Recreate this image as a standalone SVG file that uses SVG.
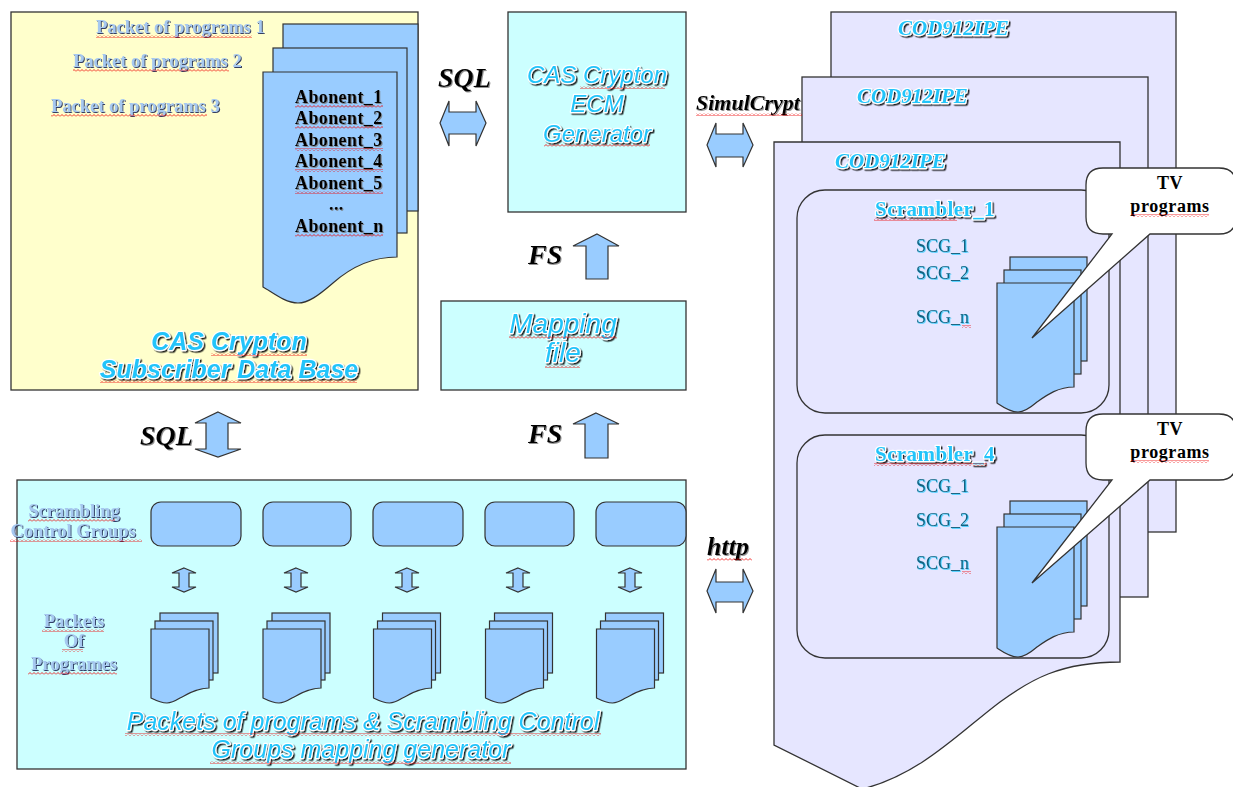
<svg xmlns="http://www.w3.org/2000/svg" width="1233" height="787" viewBox="0 0 1233 787">
<defs>
<filter id="shD" x="-5%" y="-30%" width="115%" height="170%"><feDropShadow dx="1.5" dy="1.5" stdDeviation="0.5" flood-color="#000" flood-opacity="0.85"/></filter>
<filter id="shN" x="-5%" y="-30%" width="115%" height="170%"><feDropShadow dx="1" dy="1" stdDeviation="0.5" flood-color="#1a2a55" flood-opacity="0.9"/></filter>
<filter id="shG" x="-5%" y="-30%" width="115%" height="170%"><feDropShadow dx="1" dy="1" stdDeviation="0.7" flood-color="#777" flood-opacity="0.8"/></filter>
<filter id="shC" x="-5%" y="-30%" width="115%" height="170%"><feDropShadow dx="0.8" dy="0.8" stdDeviation="0.6" flood-color="#33ccff" flood-opacity="1"/></filter>
<pattern id="wv" patternUnits="userSpaceOnUse" width="4" height="3"><path d="M0,2.5 L2,0.5 L4,2.5" fill="none" stroke="#e00" stroke-width="0.8"/></pattern>
<style>
.bx{stroke:#333;stroke-width:1.3}
.yel{fill:#ffffcc}
.cy{fill:#ccffff}
.lav{fill:#e6e6ff}
.doc{fill:#99ccff;stroke:#333;stroke-width:1.2}
.arr{fill:#99ccff;stroke:#333;stroke-width:1.2;stroke-linejoin:miter}
.call{fill:#fff;stroke:#333;stroke-width:1.3}
.ttl{font-family:"Liberation Sans",Arial,sans-serif;font-style:italic;fill:#22c4fa;stroke:#fff;stroke-width:2.5;paint-order:stroke;stroke-linejoin:round;filter:url(#shD);text-anchor:middle}
.tb{font-weight:bold}
.pk{font-family:"Liberation Serif","Times New Roman",serif;font-weight:bold;font-size:18.5px;fill:#a6c8f0;filter:url(#shN)}
.ab{font-family:"Liberation Serif","Times New Roman",serif;font-weight:bold;font-size:18px;letter-spacing:0.4px;fill:#000;filter:url(#shG)}
.lbl{font-family:"Liberation Serif","Times New Roman",serif;font-weight:bold;font-style:italic;fill:#000;filter:url(#shG)}
.cod{font-family:"Liberation Serif","Times New Roman",serif;font-weight:bold;font-style:italic;font-size:21px;fill:#22c4fa;stroke:#fff;stroke-width:2.5;paint-order:stroke;stroke-linejoin:round;filter:url(#shD)}
.scr{font-family:"Liberation Serif","Times New Roman",serif;font-weight:bold;font-size:21px;letter-spacing:0.4px;fill:#22c4fa;stroke:#fff;stroke-width:2.5;paint-order:stroke;stroke-linejoin:round;filter:url(#shD);text-anchor:middle}
.scg{font-family:"Liberation Serif","Times New Roman",serif;font-size:18px;fill:#12617f;filter:url(#shC)}
.tv{font-family:"Liberation Serif","Times New Roman",serif;font-weight:bold;font-size:18px;letter-spacing:0.6px;fill:#000;text-anchor:middle}
.sq{fill:url(#wv)}
</style>
</defs>
<rect width="1233" height="787" fill="#fff"/>

<!-- Subscriber DB -->
<g id="subscriber-db">
<rect class="bx yel" x="11" y="12" width="407" height="378"/>
<rect class="doc" x="283" y="24" width="135" height="187"/>
<rect class="doc" x="273" y="48" width="134" height="185"/>
<path class="doc" d="M263,72 H397 V257 C370,257 350,268 333,283 C318,296 308,303 298,303 C285,303 272,292 263,287 Z"/>
<text class="pk" x="96" y="33">Packet of programs 1</text>
<text class="pk" x="73" y="67">Packet of programs 2</text>
<text class="pk" x="51" y="112">Packet of programs 3</text>
<text class="ab" x="295" y="103">Abonent_1</text>
<text class="ab" x="295" y="124">Abonent_2</text>
<text class="ab" x="295" y="146">Abonent_3</text>
<text class="ab" x="295" y="167">Abonent_4</text>
<text class="ab" x="295" y="189">Abonent_5</text>
<text class="ab" x="329" y="210">...</text>
<text class="ab" x="295" y="232">Abonent_n</text>
<text class="ttl tb" x="229" y="350" font-size="25">CAS Crypton</text>
<text class="ttl tb" x="229" y="378" font-size="25">Subscriber Data Base</text>
</g>

<!-- ECM generator -->
<g id="ecm-generator">
<rect class="bx cy" x="508" y="12" width="178" height="200"/>
<text class="ttl" x="597" y="83" font-size="24">CAS Crypton</text>
<text class="ttl" x="597" y="112" font-size="24">ECM</text>
<text class="ttl" x="597" y="142" font-size="24">Generator</text>
</g>

<!-- Mapping file -->
<g id="mapping-file">
<rect class="bx cy" x="441" y="301" width="245" height="89"/>
<text class="ttl" x="563" y="333" font-size="28">Mapping</text>
<text class="ttl" x="563" y="362" font-size="28">file</text>
</g>

<!-- Mapping generator -->
<g id="mapping-generator">
<rect class="bx cy" x="17" y="480" width="669" height="289"/>
<text class="pk" x="74" y="517" text-anchor="middle" font-size="18">Scrambling</text>
<text class="pk" x="73" y="537" text-anchor="middle" font-size="18">Control Groups</text>
<text class="pk" x="74" y="627" text-anchor="middle" font-size="18">Packets</text>
<text class="pk" x="74" y="647" text-anchor="middle" font-size="18">Of</text>
<text class="pk" x="74" y="670" text-anchor="middle" font-size="18">Programes</text>
<g id="scg-groups">
<rect class="doc" x="151" y="502" width="90" height="44" rx="10"/>
<rect class="doc" x="263" y="502" width="88" height="44" rx="10"/>
<rect class="doc" x="373" y="502" width="90" height="44" rx="10"/>
<rect class="doc" x="485" y="502" width="89" height="44" rx="10"/>
<rect class="doc" x="596" y="502" width="90" height="44" rx="10"/>
</g>
<g id="packet-stacks">
<g id="stack1">
<rect class="doc" x="160" y="613" width="58" height="60"/>
<rect class="doc" x="155" y="621" width="58" height="59"/>
<path class="doc" d="M151,629 H209 V688 C197,688 188,694 180,698 C175,701 171,703 167,703 C161,703 155,700 151,698 Z"/>
</g>
<g id="stack2" transform="translate(112,0)">
<rect class="doc" x="160" y="613" width="58" height="60"/>
<rect class="doc" x="155" y="621" width="58" height="59"/>
<path class="doc" d="M151,629 H209 V688 C197,688 188,694 180,698 C175,701 171,703 167,703 C161,703 155,700 151,698 Z"/>
</g>
<g id="stack3" transform="translate(222.5,0)">
<rect class="doc" x="160" y="613" width="58" height="60"/>
<rect class="doc" x="155" y="621" width="58" height="59"/>
<path class="doc" d="M151,629 H209 V688 C197,688 188,694 180,698 C175,701 171,703 167,703 C161,703 155,700 151,698 Z"/>
</g>
<g id="stack4" transform="translate(334.5,0)">
<rect class="doc" x="160" y="613" width="58" height="60"/>
<rect class="doc" x="155" y="621" width="58" height="59"/>
<path class="doc" d="M151,629 H209 V688 C197,688 188,694 180,698 C175,701 171,703 167,703 C161,703 155,700 151,698 Z"/>
</g>
<g id="stack5" transform="translate(445.5,0)">
<rect class="doc" x="160" y="613" width="58" height="60"/>
<rect class="doc" x="155" y="621" width="58" height="59"/>
<path class="doc" d="M151,629 H209 V688 C197,688 188,694 180,698 C175,701 171,703 167,703 C161,703 155,700 151,698 Z"/>
</g>
</g>
<text class="ttl" x="363" y="730" font-size="25">Packets of programs &amp; Scrambling Control</text>
<text class="ttl" x="361" y="758" font-size="25">Groups mapping generator</text>
</g>

<!-- connector labels (SimulCrypt partly behind pages) -->
<g id="labels">
<text class="lbl" x="438" y="87" font-size="28">SQL</text>
<text class="lbl" x="140" y="445" font-size="28">SQL</text>
<text class="lbl" x="528" y="264" font-size="28">FS</text>
<text class="lbl" x="528" y="443" font-size="28">FS</text>
<text class="lbl" x="707" y="555" font-size="26">http</text>
<text class="lbl" x="696" y="110" font-size="22">SimulCrypt</text>
</g>

<!-- Coders -->
<g id="coder-3">
<rect class="bx lav" x="831" y="12" width="345" height="520"/>
<text class="cod" x="898" y="35">COD912IPE</text>
</g>
<g id="coder-2">
<rect class="bx lav" x="802" y="77" width="346" height="520"/>
<text class="cod" x="857" y="103">COD912IPE</text>
</g>
<g id="coder-1">
<path class="bx lav" d="M774,142 H1120 V662 C1060,662 1030,680 1000,702 C960,732 920,775 862,789 L774,745 Z"/>
<text class="cod" x="835" y="168">COD912IPE</text>
</g>

<g id="scrambler-1">
<rect class="bx lav" x="797" y="190" width="312" height="223" rx="28"/>
<text class="scr" x="935" y="216">Scrambler_1</text>
<text class="scg" x="916" y="252">SCG_1</text>
<text class="scg" x="916" y="279">SCG_2</text>
<text class="scg" x="916" y="323">SCG_n</text>
<rect class="doc" x="1010" y="257" width="77" height="104"/>
<rect class="doc" x="1004" y="270" width="77" height="104"/>
<path class="doc" d="M997,283 H1074 V387 C1058,387 1047,395 1037,402 C1030,408 1024,412 1018,412 C1010,412 1003,407 997,403 Z"/>
</g>

<g id="scrambler-4">
<rect class="bx lav" x="797" y="435" width="312" height="223" rx="28"/>
<text class="scr" x="935" y="461">Scrambler_4</text>
<text class="scg" x="916" y="492">SCG_1</text>
<text class="scg" x="916" y="526">SCG_2</text>
<text class="scg" x="916" y="569">SCG_n</text>
<rect class="doc" x="1010" y="501" width="77" height="105"/>
<rect class="doc" x="1004" y="514" width="77" height="105"/>
<path class="doc" d="M997,527 H1074 V632 C1058,632 1047,640 1037,647 C1030,653 1024,657 1018,657 C1010,657 1003,652 997,648 Z"/>
</g>

<g id="callout-1">
<path class="call" d="M1103,168 H1219 Q1236,168 1236,185 V217 Q1236,234 1219,234 H1150 L1032,338 L1112,234 H1103 Q1086,234 1086,217 V185 Q1086,168 1103,168 Z"/>
<text class="tv" x="1170" y="189">TV</text>
<text class="tv" x="1170" y="212">programs</text>
</g>
<g id="callout-2">
<path class="call" d="M1103,414 H1219 Q1236,414 1236,431 V463 Q1236,480 1219,480 H1150 L1032,583 L1112,480 H1103 Q1086,480 1086,463 V431 Q1086,414 1103,414 Z"/>
<text class="tv" x="1170" y="435">TV</text>
<text class="tv" x="1170" y="458">programs</text>
</g>

<!-- Connectors -->
<g id="connectors">
<polygon class="arr" points="440,123 449,101 449,112 476,112 476,101 486,123 476,146 476,134 449,134 449,146"/>
<polygon class="arr" points="707,145 716,123 716,134 743,134 743,123 753,145 743,167 743,157 716,157 716,167"/>
<polygon class="arr" points="707,591 716,569 716,582 743,582 743,569 753,591 743,613 743,602 716,602 716,613"/>
<polygon class="arr" points="218,412 241,423 228,423 228,449 241,449 218,457 195,449 206,449 206,423 195,423"/>
<polygon class="arr" points="597,234 619,246 608,246 608,279 586,279 586,246 573,246"/>
<polygon class="arr" points="596,413 619,424 608,424 608,458 585,458 585,424 573,424"/>
<polygon class="arr" points="184,568 196,573 189,573 189,587 196,587 184,592 172,587 179,587 179,573 172,573"/>
<polygon class="arr" points="296,568 308,573 301,573 301,587 308,587 296,592 284,587 291,587 291,573 284,573"/>
<polygon class="arr" points="407,568 419,573 412,573 412,587 419,587 407,592 395,587 402,587 402,573 395,573"/>
<polygon class="arr" points="518,568 530,573 523,573 523,587 530,587 518,592 506,587 513,587 513,573 506,573"/>
<polygon class="arr" points="630,568 642,573 635,573 635,587 642,587 630,592 618,587 625,587 625,573 618,573"/>
</g>

<!-- spell-check underlines as shown -->
<g id="squiggles">
<rect class="sq" x="96" y="35" width="156" height="3"/>
<rect class="sq" x="73" y="69" width="156" height="3"/>
<rect class="sq" x="51" y="114" width="156" height="3"/>
<rect class="sq" x="295" y="105" width="88" height="3"/>
<rect class="sq" x="295" y="126" width="88" height="3"/>
<rect class="sq" x="295" y="148" width="88" height="3"/>
<rect class="sq" x="295" y="169" width="88" height="3"/>
<rect class="sq" x="295" y="191" width="88" height="3"/>
<rect class="sq" x="295" y="234" width="88" height="3"/>
<rect class="sq" x="211" y="353" width="96" height="3"/>
<rect class="sq" x="100" y="380" width="257" height="3"/>
<rect class="sq" x="580" y="86" width="85" height="3"/>
<rect class="sq" x="544" y="144" width="106" height="3"/>
<rect class="sq" x="509" y="336" width="108" height="3"/>
<rect class="sq" x="545" y="365" width="35" height="3"/>
<rect class="sq" x="696" y="113" width="106" height="3"/>
<rect class="sq" x="707" y="558" width="45" height="3"/>
<rect class="sq" x="874" y="218" width="83" height="3"/>
<rect class="sq" x="874" y="463" width="113" height="3"/>
<rect class="sq" x="962" y="325" width="9" height="3"/>
<rect class="sq" x="962" y="571" width="9" height="3"/>
<rect class="sq" x="1131" y="214" width="78" height="3"/>
<rect class="sq" x="1131" y="460" width="78" height="3"/>
<rect class="sq" x="28" y="519" width="87" height="3"/>
<rect class="sq" x="10" y="539" width="132" height="3"/>
<rect class="sq" x="42" y="629" width="62" height="3"/>
<rect class="sq" x="62" y="649" width="21" height="3"/>
<rect class="sq" x="28" y="672" width="89" height="3"/>
<rect class="sq" x="125" y="733" width="476" height="3"/>
<rect class="sq" x="210" y="761" width="301" height="3"/>
</g>
</svg>
